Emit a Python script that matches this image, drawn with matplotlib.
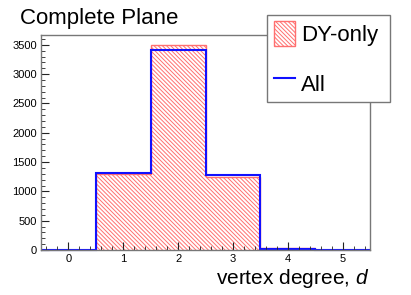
import matplotlib
matplotlib.use("Agg")
import matplotlib.pyplot as plt
import numpy as np
from matplotlib.ticker import MultipleLocator

plt.rcParams['font.family'] = ['Liberation Sans', 'DejaVu Sans']
plt.rcParams['mathtext.fontset'] = 'custom'
plt.rcParams['mathtext.rm'] = 'Liberation Sans'
plt.rcParams['mathtext.it'] = 'Liberation Sans:italic'
plt.rcParams['hatch.linewidth'] = 0.7

# histogram contents, one bin per vertex degree
degrees = [0, 1, 2, 3, 4, 5]
dy_only = [0, 1290, 3493, 1250, 30, 0]
all_evts = [0, 1314, 3408, 1278, 25, 0]
edges = np.arange(-0.5, 6.0, 1.0)

fig = plt.figure(figsize=(4.11, 2.95), dpi=100)
ax = fig.add_axes([41/411, 1-250/295, 329/411, 215/295])

ax.stairs(dy_only, edges, fill=True, facecolor='none', edgecolor='#ff7070',
          hatch='\\\\\\\\\\\\\\\\', lw=1.0, label='DY-only')
ax.stairs(all_evts, edges, color='#1010ff', lw=1.5, label='All', clip_on=False)

ax.set_xlim(-0.5, 5.5)
ax.set_ylim(0, max(dy_only) * 1.05)
ax.xaxis.set_major_locator(MultipleLocator(1))
ax.xaxis.set_minor_locator(MultipleLocator(0.2))
ax.yaxis.set_major_locator(MultipleLocator(500))
ax.yaxis.set_minor_locator(MultipleLocator(100))
ax.tick_params(which='both', direction='in', top=False, right=False,
               labelsize=8, color='#222222')
ax.tick_params(which='major', length=6, pad=3)
ax.tick_params(which='minor', length=3)
for s in ax.spines.values():
    s.set_color('#777777')
    s.set_linewidth(1.0)

fig.text(20/411, 1-24/295, 'Complete Plane', fontsize=16, va='baseline', ha='left')
fig.text(369/411, 1-284/295, 'vertex degree, $d$', fontsize=15,
         va='baseline', ha='right')

leg = ax.legend(loc='upper left',
                bbox_to_anchor=(267/411, 1-102/295, 123/411, 87.3/295),
                bbox_transform=fig.transFigure, mode='expand', fontsize=16,
                handlelength=0.95, handleheight=1.35, labelspacing=1.1,
                handletextpad=0.3, borderpad=0.3, borderaxespad=0,
                fancybox=False, framealpha=1, edgecolor='#777777')
leg.get_frame().set_linewidth(1.0)

fig.savefig('out.png', dpi=100)
